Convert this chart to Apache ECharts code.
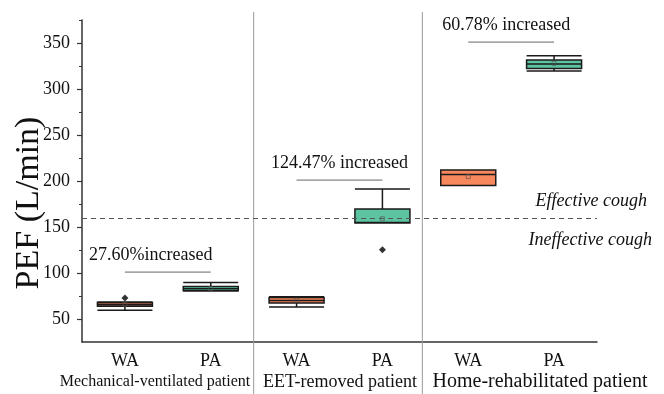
<!DOCTYPE html>
<html><head><meta charset="utf-8">
<script src="https://cdn.jsdelivr.net/npm/echarts@6/dist/echarts.min.js"></script>
<style>html,body{margin:0;padding:0;background:#fff}#c{width:664px;height:394px}</style>
</head><body><div id="c"></div>
<script>
const categories = ['WA', 'PA', 'WA', 'PA', 'WA', 'PA'];
const groups = ['Mechanical-ventilated patient', 'EET-removed patient', 'Home-rehabilitated patient'];
// [min, Q1, median, Q3, max]
const boxValues = [
  [59.5, 63.8, 65.8, 68.0, 68.5],
  [80.3, 80.6, 83.0, 85.2, 89.8],
  [63.0, 67.4, 70.2, 73.5, 74.3],
  [154.3, 154.3, 155.0, 169.6, 191.3],
  [195.2, 195.2, 207.2, 212.0, 212.0],
  [319.6, 322.4, 327.2, 331.5, 336.2]
];
const meanValues = [66.0, 83.0, 70.5, 159.0, 204.7, 327.9];
const outlierIdx = [0, 3];
const outlierVal = [72.8, 125.3];
const increaseLabels = ['27.60%increased', '124.47% increased', '60.78% increased'];
const increaseLevels = [101, 201, 351];
const thresholdValue = 160;
const thresholdLabels = ['Effective cough', 'Ineffective cough'];
const yAxisTitle = 'PEF (L/min)';
const yMajorTicks = [50, 100, 150, 200, 250, 300, 350];
const yMinorTicks = [75, 125, 175, 225, 275, 325, 375];

const FONT = '"Liberation Serif", "Times New Roman", serif';
const boxColors = ['#F7875C', '#5CC4A0'];

const chart = echarts.init(document.getElementById('c'), null, {renderer: 'canvas'});

const yCommon = {
  type: 'value', min: 25, max: 375,
  splitLine: {show: false}
};

chart.setOption({
  animation: false,
  backgroundColor: '#fff',
  grid: {left: 82, right: 67, top: 20, bottom: 52, containLabel: false},
  xAxis: {
    type: 'category', data: categories,
    axisLine: {lineStyle: {color: '#333', width: 1.5}},
    axisTick: {alignWithLabel: true, length: 5, lineStyle: {color: '#333', width: 1.2}},
    axisLabel: {fontFamily: FONT, fontSize: 18, color: '#111', margin: 10}
  },
  yAxis: [
    Object.assign({}, yCommon, {
      axisLine: {show: true, lineStyle: {color: '#333', width: 1.5}},
      axisTick: {show: true, length: 5, customValues: yMajorTicks, lineStyle: {color: '#333', width: 1.2}},
      axisLabel: {customValues: yMajorTicks, fontFamily: FONT, fontSize: 18, color: '#111', margin: 12}
    }),
    Object.assign({}, yCommon, {
      position: 'left',
      axisLine: {show: false},
      axisTick: {show: true, length: 3, customValues: yMinorTicks, lineStyle: {color: '#333', width: 1}},
      axisLabel: {show: false}
    })
  ],
  series: [
    {
      type: 'boxplot',
      boxWidth: [55, 55],
      data: boxValues.map((v, i) => ({
        value: v,
        itemStyle: {color: boxColors[i % 2], borderColor: '#1a1a1a', borderWidth: 1.5}
      })),
      markLine: {
        silent: true, symbol: 'none',
        label: {show: false},
        lineStyle: {type: [5, 4], color: '#555', width: 1.2},
        data: [{yAxis: thresholdValue}]
      }
    },
    {
      type: 'scatter', symbol: 'diamond', symbolSize: 7,
      itemStyle: {color: '#000'},
      data: outlierIdx.map((x, i) => [x, outlierVal[i]])
    },
    {
      type: 'scatter', symbol: 'rect', symbolSize: 4, z: 5,
      itemStyle: {color: 'rgba(0,0,0,0)', borderColor: '#555', borderWidth: 0.8},
      data: meanValues.map((v, i) => [i, v])
    }
  ]
});

// decorations computed from the axes
const px = (x, y) => chart.convertToPixel({gridIndex: 0}, [x, y]);
const graphics = [];
const textStyle = (t, extra) => Object.assign({text: t, font: '18px ' + FONT, fill: '#111'}, extra || {});

// y axis title
graphics.push({type: 'text', x: 29, y: 203, rotation: Math.PI / 2,
  style: textStyle(yAxisTitle, {font: '34px ' + FONT, textAlign: 'center', textVerticalAlign: 'middle'})});

// group separators
const sepShift = [0, -3];
[1.5, 3.5].forEach((m, k) => {
  const xL = px(Math.floor(m), 0)[0], xR = px(Math.ceil(m), 0)[0];
  const x = (xL + xR) / 2 + sepShift[k];
  graphics.push({type: 'line', shape: {x1: x, y1: 12, x2: x, y2: 394}, style: {stroke: '#999', lineWidth: 1}, z: 1});
});

// increase annotations
const textDx = [-17, 0, -5];
increaseLabels.forEach((t, g) => {
  const a = px(g * 2, increaseLevels[g]);
  const b = px(g * 2 + 1, increaseLevels[g]);
  graphics.push({type: 'line', shape: {x1: a[0], y1: a[1], x2: b[0], y2: b[1]}, style: {stroke: '#666', lineWidth: 1}});
  graphics.push({type: 'text', x: (a[0] + b[0]) / 2 + textDx[g], y: a[1] - 17,
    style: textStyle(t, {textAlign: 'center', textVerticalAlign: 'middle'})});
});

// threshold labels
const th = px(5, thresholdValue);
graphics.push({type: 'text', x: 647, y: th[1] - 17,
  style: textStyle(thresholdLabels[0], {font: 'italic 18px ' + FONT, textAlign: 'right', textVerticalAlign: 'middle'})});
graphics.push({type: 'text', x: 652, y: th[1] + 22,
  style: textStyle(thresholdLabels[1], {font: 'italic 18px ' + FONT, textAlign: 'right', textVerticalAlign: 'middle'})});

// group labels
const groupCenters = [155, 340, 540];
const groupSizes = [16, 18, 20];
groups.forEach((t, g) => {
  graphics.push({type: 'text', x: groupCenters[g], y: 382,
    style: textStyle(t, {font: groupSizes[g] + 'px ' + FONT, textAlign: 'center', textVerticalAlign: 'middle'})});
});

chart.setOption({graphic: graphics});
</script>
</body></html>
